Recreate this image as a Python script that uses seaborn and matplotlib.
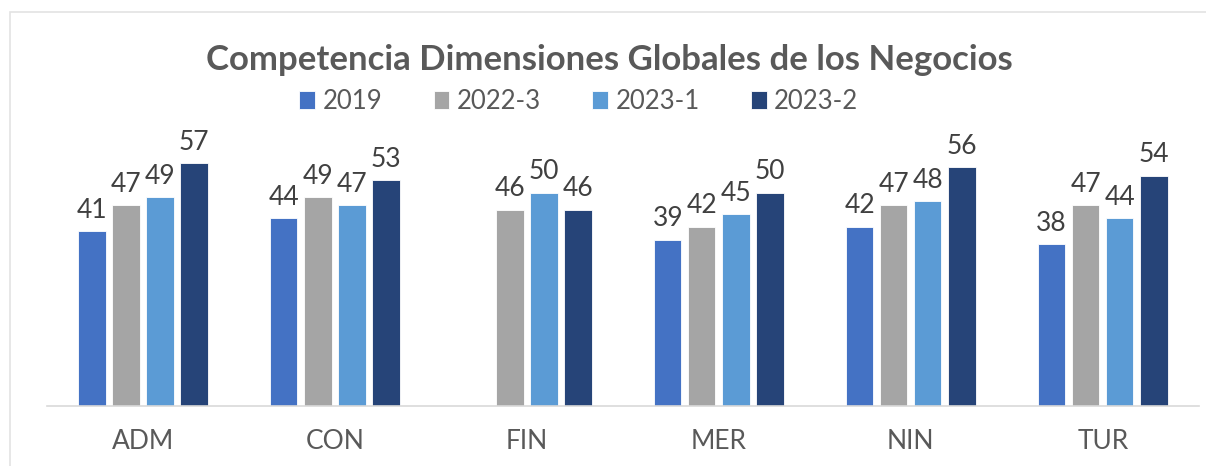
import pandas as pd
import numpy as np
import matplotlib.pyplot as plt
import seaborn as sns
from matplotlib.patches import Rectangle

# Data
programs = ['ADM', 'CON', 'FIN', 'MER', 'NIN', 'TUR']
periods = ['2019', '2022-3', '2023-1', '2023-2']
v2019 = [41, 44, np.nan, 39, 42, 38]
v2022_3 = [47, 49, 46, 42, 47, 47]
v2023_1 = [49, 47, 50, 45, 48, 44]
v2023_2 = [57, 53, 46, 50, 56, 54]

df = pd.DataFrame({'programa': programs, '2019': v2019, '2022-3': v2022_3,
                   '2023-1': v2023_1, '2023-2': v2023_2})
long_df = df.melt(id_vars='programa', value_vars=periods, var_name='periodo', value_name='valor')

palette = {'2019': '#4472C4', '2022-3': '#A5A5A5', '2023-1': '#5B9BD5', '2023-2': '#264478'}

sns.set_theme(style="white")
plt.rcParams['font.family'] = ['Lato', 'DejaVu Sans']

fig = plt.figure(figsize=(12.06, 4.66), dpi=100)
ax = fig.add_axes([0.039, 0.129, 0.955, 0.549])

sns.barplot(data=long_df, x='programa', y='valor', hue='periodo', order=programs,
            hue_order=periods, palette=palette, width=0.71, gap=0.2,
            edgecolor='white', linewidth=0.6, saturation=1, ax=ax, legend=True)

for cont in ax.containers:
    ax.bar_label(cont, fmt='%.0f', padding=6, fontsize=19, color='#404040')

ax.set_ylim(0, 60)
ax.set_xlim(-0.5, 5.5)
ax.set_xlabel('')
ax.set_ylabel('')
ax.set_yticks([])
ax.tick_params(axis='x', length=0, pad=17, labelsize=19, labelcolor='#595959')
for side in ['top', 'right', 'left']:
    ax.spines[side].set_visible(False)
ax.spines['bottom'].set_color('#D9D9D9')
ax.spines['bottom'].set_linewidth(1.2)

# Legend across the top
handles, labels = ax.get_legend_handles_labels()
ax.get_legend().remove()
fig.legend(handles, labels, loc='center', bbox_to_anchor=(0.48, 0.782), ncol=4,
           frameon=False, fontsize=18.5, labelcolor='#595959', handlelength=0.6,
           handleheight=0.7, handletextpad=0.3, columnspacing=2.0)

fig.text(0.505, 0.872, 'Competencia Dimensiones Globales de los Negocios', ha='center',
         va='center', fontsize=25, fontweight='bold', color='#595959')

# Chart border
fig.patches.append(Rectangle((0.0083, -0.1), 1.2, 1.074, transform=fig.transFigure,
                             fill=False, edgecolor='#E3E3E3', linewidth=1.2))

fig.savefig('out.png', dpi=100)
